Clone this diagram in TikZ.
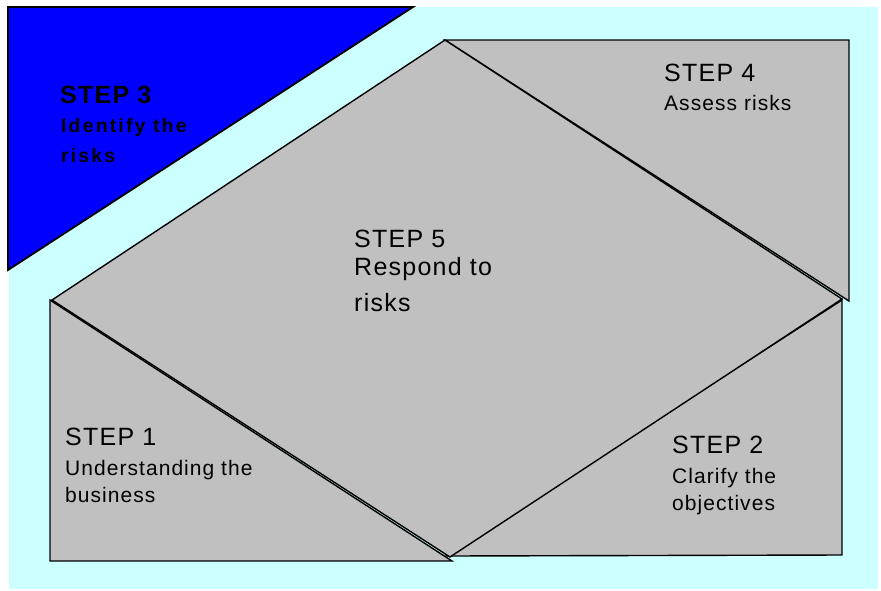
\documentclass[tikz,border=0pt]{standalone}
\usepackage{fontspec}
\setmainfont{Liberation Sans}
\newfontfamily\stepfont[LetterSpace=5]{Liberation Sans}
\definecolor{bgcyan}{HTML}{CCFFFF}
\definecolor{stepblue}{HTML}{0000FF}
\definecolor{stepgray}{HTML}{C0C0C0}
\tikzset{
  panel/.style={draw=black, line width=1.4pt, line join=miter},
  grayp/.style={panel, fill=stepgray},
  lbl/.style={anchor=base west, inner sep=0pt, text=black},
  big/.style={lbl, font=\stepfont\fontsize{25}{25}\selectfont},
  small/.style={lbl, font=\stepfont\fontsize{21}{21}\selectfont},
  bigb/.style={lbl, font=\stepfont\bfseries\fontsize{25}{25}\selectfont},
  smallb/.style={lbl, font=\stepfont\addfontfeatures{LetterSpace=11}\bfseries\fontsize{19.5}{19.5}\selectfont},
}
\begin{document}
\begin{tikzpicture}[x=1pt,y=-1pt]
\useasboundingbox (0,0) rectangle (881,590);
\fill[white] (0,0) rectangle (881,590);
\fill[bgcyan] (9,7) rectangle (878,589);
% step 3 blue triangle
\draw[panel, fill=stepblue, line width=1.8pt] (8,7) -- (413,7) -- (8,270) -- cycle;
% step 4
\draw[grayp] (445,40) -- (849,40) -- (849,301) -- cycle;
% step 1
\draw[grayp] (50,300) -- (452,561) -- (50,561) -- cycle;
% step 2
\draw[grayp] (446,556) -- (842,300) -- (842,555) -- cycle;
% step 5 diamond
\draw[grayp] (445,40) -- (842,299) -- (450,557) -- (52,300) -- cycle;
% labels
\node[bigb]   (s3a) at (60,103) {STEP 3};
\node[smallb] (s3b) at (61,132) {Identify the};
\node[smallb] (s3c) at (61,162) {risks};
\node[big]   (s4a) at (664,81) {STEP 4};
\node[small] (s4b) at (664,110) {Assess risks};
\node[big]   (s5a) at (354,247) {STEP 5};
\node[big]   (s5b) at (354,275) {Respond to};
\node[big]   (s5c) at (354,311) {risks};
\node[big]   (s1a) at (65,445) {STEP 1};
\node[small] (s1b) at (65,475) {Understanding the};
\node[small] (s1c) at (65,502) {business};
\node[big]   (s2a) at (672,453) {STEP 2};
\node[small] (s2b) at (672,483) {Clarify the};
\node[small] (s2c) at (672,510) {objectives};
\end{tikzpicture}
\end{document}
